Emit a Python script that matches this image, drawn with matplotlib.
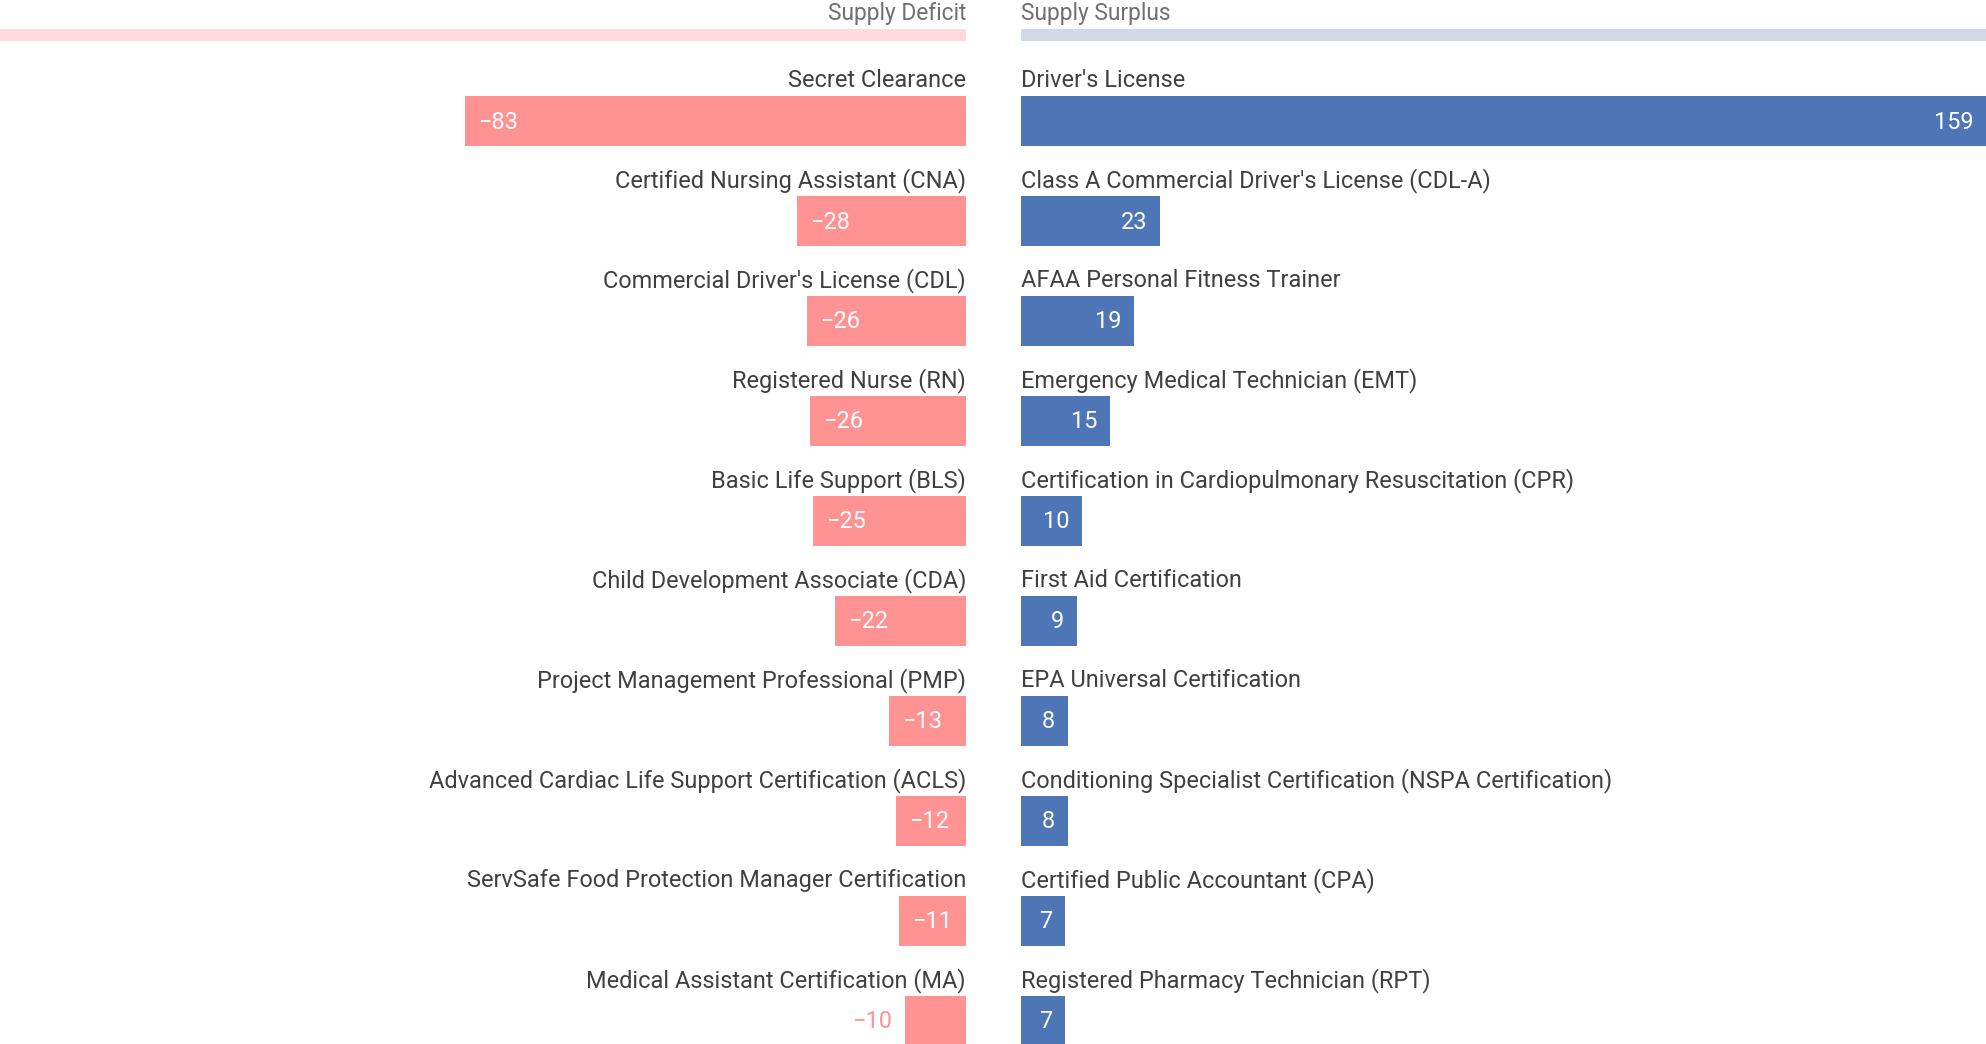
import matplotlib
matplotlib.use("Agg")
import matplotlib.pyplot as plt

plt.rcParams['font.family'] = ['Roboto', 'DejaVu Sans']

# Datos (las etiquetas se muestran redondeadas)
deficit_labels = [
    "Secret Clearance",
    "Certified Nursing Assistant (CNA)",
    "Commercial Driver's License (CDL)",
    "Registered Nurse (RN)",
    "Basic Life Support (BLS)",
    "Child Development Associate (CDA)",
    "Project Management Professional (PMP)",
    "Advanced Cardiac Life Support Certification (ACLS)",
    "ServSafe Food Protection Manager Certification",
    "Medical Assistant Certification (MA)",
]
deficit_values = [-83.0, -28.0, -26.4, -25.9, -25.3, -21.7, -12.8, -11.6, -11.1, -10.1]

surplus_labels = [
    "Driver's License",
    "Class A Commercial Driver's License (CDL-A)",
    "AFAA Personal Fitness Trainer",
    "Emergency Medical Technician (EMT)",
    "Certification in Cardiopulmonary Resuscitation (CPR)",
    "First Aid Certification",
    "EPA Universal Certification",
    "Conditioning Specialist Certification (NSPA Certification)",
    "Certified Public Accountant (CPA)",
    "Registered Pharmacy Technician (RPT)",
]
surplus_values = [159.0, 22.9, 18.7, 14.7, 10.1, 9.2, 7.8, 7.8, 7.3, 7.3]

# Colores
pink = '#ff9393'
pink_light = '#ffdada'
blue = '#4e75b6'
blue_light = '#d1d8e6'
label_color = '#404040'
head_color = '#707070'

W, H = 1986, 1044
px_unit = 6.036
fig = plt.figure(figsize=(W / 100, H / 100), dpi=100)
ax_l = fig.add_axes([0, 0, 966 / W, 1])
ax_r = fig.add_axes([1021 / W, 0, 965 / W, 1])

fs = 16.9
pad_px = 13
ylim = (9.23, -1.21)


def fmt(v):
    return f"{round(v)}".replace('-', '\u2212')


def draw_panel(ax, labels, values, color, color_light, title, xlim, side):
    ax.set_xlim(*xlim)
    ax.set_ylim(*ylim)
    ax.axis('off')
    ys = list(range(len(values)))
    ax.barh(ys, values, height=0.5, color=color, linewidth=0)

    # barra de cabecera
    ax.barh([-0.86], [xlim[0] if side == 'left' else xlim[1]], height=0.12,
            color=color_light, linewidth=0)
    ha = 'right' if side == 'left' else 'left'
    ax.text(0, -1.01, title, ha=ha, va='baseline', fontsize=16.4,
            color=head_color)

    fig.canvas.draw()
    renderer = fig.canvas.get_renderer()
    ppu = ax.bbox.width / (xlim[1] - xlim[0])

    for y, lab, v in zip(ys, labels, values):
        ax.text(0, y - 0.34, lab, ha=ha, va='baseline', fontsize=fs,
                color=label_color)
        t = ax.text(0, y + 0.01, fmt(v), fontsize=fs, va='center', color='white')
        tw = t.get_window_extent(renderer).width
        bar_px = abs(v) * ppu
        off = pad_px / ppu
        if tw + 2 * pad_px <= bar_px:
            if side == 'left':
                t.set_x(v + off)
                t.set_ha('left')
            else:
                t.set_x(v - off)
                t.set_ha('right')
        else:
            t.set_color(color)
            if side == 'left':
                t.set_x(v - off)
                t.set_ha('right')
            else:
                t.set_x(v + off)
                t.set_ha('left')


draw_panel(ax_l, deficit_labels, deficit_values, pink, pink_light,
           'Supply Deficit', (-966 / px_unit, 0), 'left')
draw_panel(ax_r, surplus_labels, surplus_values, blue, blue_light,
           'Supply Surplus', (0, max(surplus_values)), 'right')

fig.savefig('out.png', dpi=100)
